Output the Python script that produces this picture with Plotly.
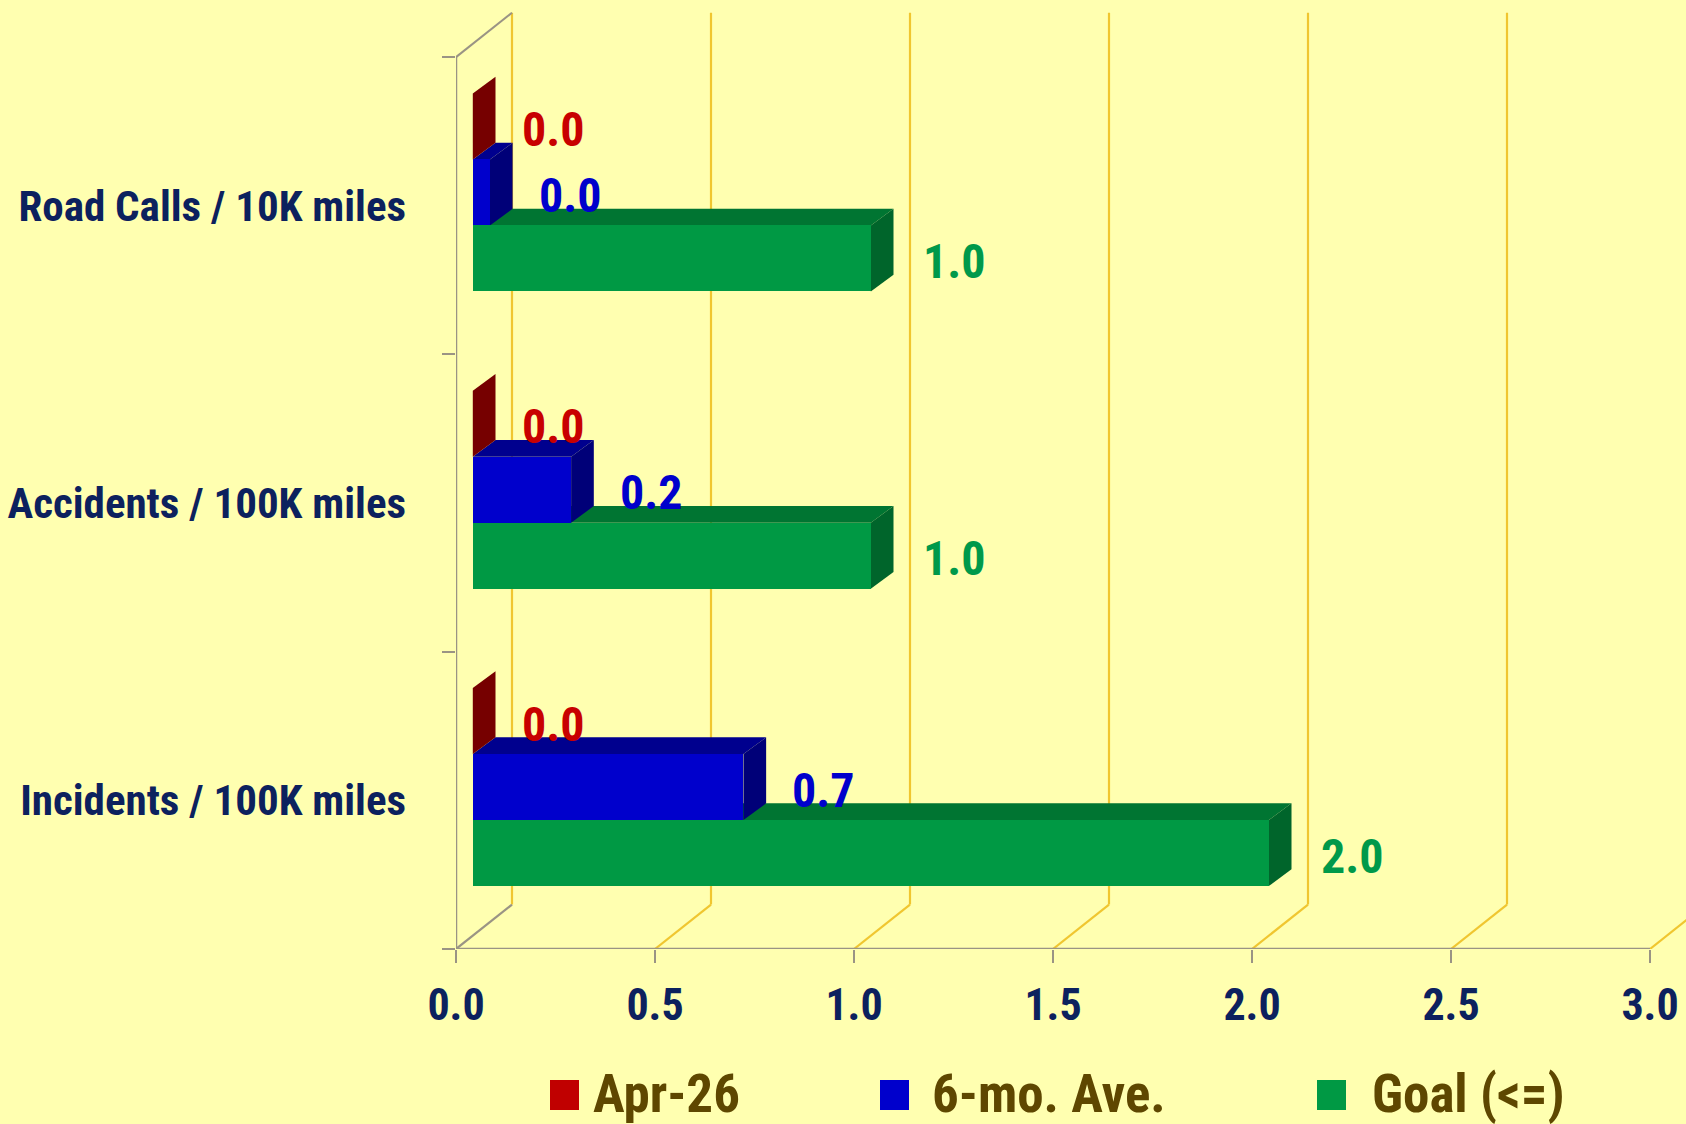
import plotly.graph_objects as go

# ---------------- data ----------------
categories = ["Incidents / 100K miles", "Accidents / 100K miles", "Road Calls / 10K miles"]
series_names = ["Apr-26", "6-mo. Ave.", "Goal (<=)"]
apr26 = [0.0, 0.0, 0.0]
six_mo_ave = [0.68, 0.247, 0.043]
goal = [2.0, 1.0, 1.0]
x_ticks = [0.0, 0.5, 1.0, 1.5, 2.0, 2.5, 3.0]

# ---------------- styling / geometry ----------------
W, H = 1686, 1124
ML, MR, MT, MB = 456, 0, 10, 175
PX_X = 398.0          # pixels per x unit
PX_Y = 297.3          # pixels per category band
x_max = (W - ML - MR) / PX_X
y_max = (H - MT - MB) / PX_Y

BACK_DX, BACK_DY = 56 / PX_X, 44.4 / PX_Y      # back-wall depth
BAR_SX, BAR_SY = 16.8 / PX_X, 13.3 / PX_Y      # bar placement in depth
FACE_DX, FACE_DY = 22.7 / PX_X, 16.7 / PX_Y    # bar thickness in depth
BAR_H = 66.0 / PX_Y

BG = "#FFFFB0"
GRID = "#F0C630"
AXIS = "#9A9484"
FONT = "Roboto Condensed, Liberation Sans Narrow, Arial Narrow, sans-serif"
NAVY = "#0C215E"
LEG_TXT = "#5E4700"

front_cols = ["#C00000", "#0000CC", "#009944"]
top_cols = ["#8A0000", "#00008E", "#007532"]
side_cols = ["#760000", "#000078", "#00652B"]
label_cols = ["#C80000", "#0000CC", "#00994A"]
values = [apr26, six_mo_ave, goal]
offsets = [1, 0, -1]   # vertical stacking of the three bars in each band

fig = go.Figure()
shapes = []

# back wall gridlines + floor diagonals
for t in x_ticks:
    shapes.append(dict(type="line", xref="x", yref="y", layer="below",
                       x0=t + BACK_DX, x1=t + BACK_DX, y0=BACK_DY, y1=3 + BACK_DY,
                       line=dict(color=GRID, width=2.2)))
    shapes.append(dict(type="line", xref="x", yref="y", layer="below",
                       x0=t, x1=t + BACK_DX, y0=0, y1=BACK_DY,
                       line=dict(color=AXIS if t == 0 else GRID, width=2.2)))
# left wall edges
shapes.append(dict(type="line", xref="x", yref="y", layer="below",
                   x0=0, x1=0, y0=0, y1=3, line=dict(color=AXIS, width=2.5)))
shapes.append(dict(type="line", xref="x", yref="y", layer="below",
                   x0=0, x1=BACK_DX, y0=3, y1=3 + BACK_DY, line=dict(color=AXIS, width=2)))
# floor baseline
shapes.append(dict(type="line", xref="x", yref="y", layer="below",
                   x0=0, x1=x_ticks[-1], y0=0, y1=0, line=dict(color=AXIS, width=2.5)))


def poly(pts, color):
    d = "M " + " L ".join(f"{px},{py}" for px, py in pts) + " Z"
    return dict(type="path", xref="x", yref="y", layer="below", path=d,
                fillcolor=color, line=dict(width=0))


# 3D faces (top / side) computed from data, drawn bottom bar first
for ci in range(len(categories)):
    for si in [2, 1, 0]:
        v = values[si][ci]
        yc = ci + 0.5 + BAR_SY + offsets[si] * BAR_H
        yb, yt = yc - BAR_H / 2, yc + BAR_H / 2
        x0, x1 = BAR_SX, BAR_SX + v
        shapes.append(poly([(x0, yt), (x1, yt), (x1 + FACE_DX, yt + FACE_DY),
                            (x0 + FACE_DX, yt + FACE_DY)], top_cols[si]))
        shapes.append(poly([(x1, yb), (x1, yt), (x1 + FACE_DX, yt + FACE_DY),
                            (x1 + FACE_DX, yb + FACE_DY)], side_cols[si]))

# front faces as bars
annotations = []
for si in range(3):
    ys = [ci + 0.5 + BAR_SY + offsets[si] * BAR_H for ci in range(len(categories))]
    fig.add_trace(go.Bar(
        orientation="h", y=ys, x=values[si], base=BAR_SX, width=BAR_H,
        name=series_names[si], marker=dict(color=front_cols[si], line=dict(width=0)),
        showlegend=False, hoverinfo="x+name"))
    for ci in range(len(categories)):
        annotations.append(dict(
            x=BAR_SX + values[si][ci], y=ys[ci], xref="x", yref="y",
            text=f"{values[si][ci]:.1f}", showarrow=False, xanchor="left", yanchor="middle",
            xshift=47 if si < 2 else 50, yshift=-3,
            font=dict(family=FONT, size=48, color=label_cols[si], weight="bold")))

# custom legend (large squares)
def pxx(p):
    return (p - ML) / (W - ML - MR)

def pxy(p):
    return (H - MB - p) / (H - MT - MB)

leg_sq_x = [550, 880, 1317]
leg_txt_x = [591, 930, 1370]
for si in range(3):
    shapes.append(dict(type="rect", xref="paper", yref="paper",
                       x0=pxx(leg_sq_x[si]), x1=pxx(leg_sq_x[si] + 29),
                       y0=pxy(1110), y1=pxy(1080),
                       fillcolor=front_cols[si], line=dict(width=0)))
    annotations.append(dict(x=pxx(leg_txt_x[si]), y=pxy(1094), xref="paper", yref="paper",
                            text=series_names[si], showarrow=False,
                            xanchor="left", yanchor="middle",
                            font=dict(family=FONT, size=53, color=LEG_TXT, weight="bold")))

fig.update_layout(
    width=W, height=H, autosize=False,
    margin=dict(l=ML, r=MR, t=MT, b=MB, pad=0),
    paper_bgcolor=BG, plot_bgcolor=BG,
    barmode="overlay", bargap=0,
    shapes=shapes, annotations=annotations, showlegend=False,
    xaxis=dict(range=[0, x_max], tickvals=x_ticks, ticktext=[f"{t:.1f}" for t in x_ticks],
               ticks="outside", ticklen=13, tickwidth=2, tickcolor=AXIS, automargin=False,
               showgrid=False, zeroline=False, showline=False, ticklabelstandoff=4,
               tickfont=dict(family=FONT, size=44, color=NAVY, weight="bold")),
    yaxis=dict(range=[0, y_max], tickvals=[i + 0.5 for i in range(len(categories))],
               ticktext=categories, ticks="", showgrid=False, zeroline=False, showline=False,
               ticklabelstandoff=49, automargin=False,
               minor=dict(tickvals=[0, 1, 2, 3], ticks="outside", ticklen=13,
                          tickwidth=2, tickcolor=AXIS, showgrid=False),
               tickfont=dict(family=FONT, size=43, color=NAVY, weight="bold")),
)

fig.write_html("out.html", post_script="document.body.style.margin='0';")
